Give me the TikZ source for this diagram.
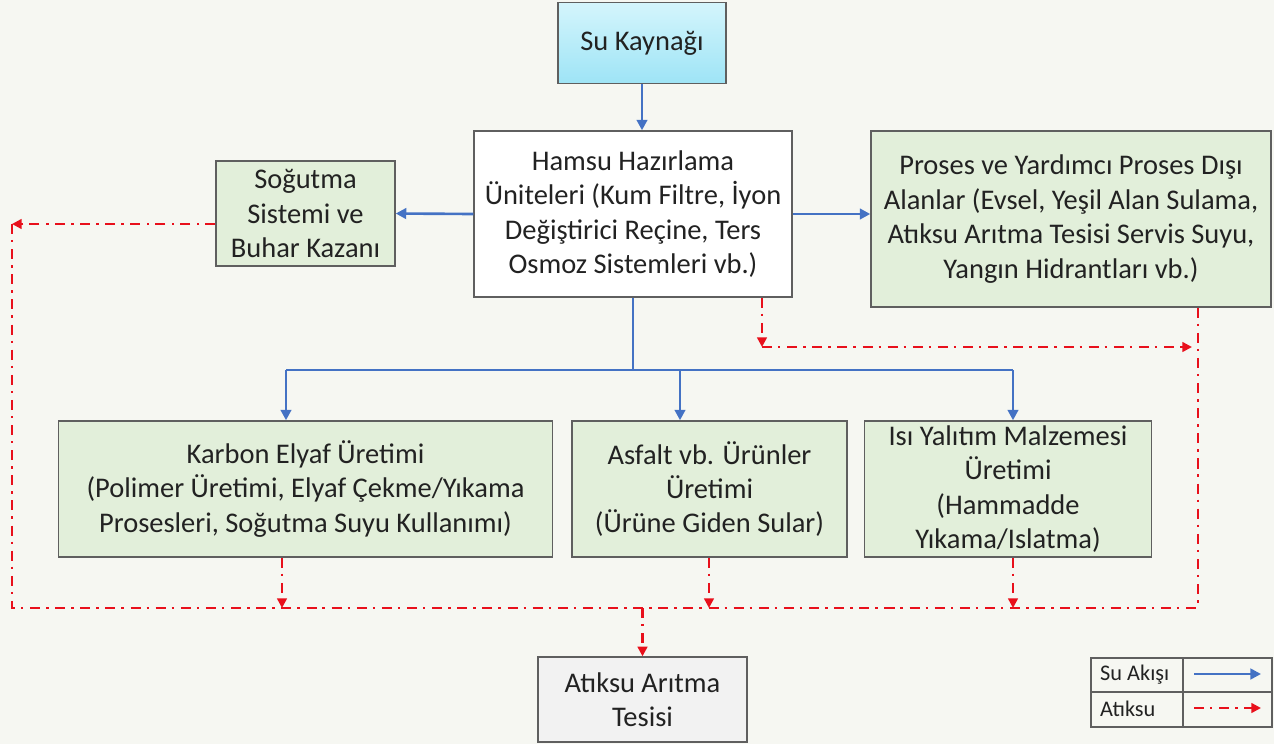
\documentclass[tikz,border=0pt]{standalone}
\usepackage{fontspec}
\setmainfont{Carlito}
\usetikzlibrary{arrows.meta}

\definecolor{bgcol}{HTML}{F6F7F2}
\definecolor{boxgreen}{HTML}{E2EFDA}
\definecolor{boxgray}{HTML}{5F5F5F}
\definecolor{srctop}{HTML}{D4F5FC}
\definecolor{srcbot}{HTML}{9EE4F6}
\definecolor{flowblue}{HTML}{4472C4}
\definecolor{wastered}{HTML}{E8101C}
\definecolor{textcol}{HTML}{222222}

\tikzset{
  box/.style={draw=boxgray, fill=boxgreen, line width=0.8pt, align=center,
    inner sep=2pt, text=textcol, font=\fontsize{16.2}{19.6}\selectfont},
  flow/.style={draw=flowblue, line width=1.5pt},
  flowarr/.style={flow, -{Triangle[length=6pt,width=6pt]}},
  waste/.style={draw=wastered, line width=1.5pt,
    dash pattern=on 5.7pt off 3.4pt on 1.4pt off 3.8pt},
  wastearr/.style={waste, -{Triangle[length=5.5pt,width=5.5pt]}},
}

\begin{document}
\begin{tikzpicture}[x=0.2mm,y=-0.2mm]
\fill[bgcol] (0,0) rectangle (1274,744);

% boxes
\node[box, top color=srctop, bottom color=srcbot, minimum width=3.36cm, minimum height=1.62cm]
  (kaynak) at (642,43) {Su Kaynağı};
\node[box, fill=white, minimum width=6.36cm, minimum height=3.32cm] (hamsu) at (633,214)
  {Hamsu Hazırlama\\Üniteleri (Kum Filtre, İyon\\Değiştirici Reçine, Ters\\Osmoz Sistemleri vb.)};
\node[box, minimum width=3.58cm, minimum height=2.1cm] (sogutma) at (305.5,213.5)
  {Soğutma\\Sistemi ve\\Buhar Kazanı};
\node[box, minimum width=8cm, minimum height=3.52cm] (proses) at (1071,219)
  {Proses ve Yardımcı Proses Dışı\\Alanlar (Evsel, Yeşil Alan Sulama,\\Atıksu Arıtma Tesisi Servis Suyu,\\Yangın Hidrantları vb.)};
\node[box, minimum width=9.88cm, minimum height=2.72cm] (karbon) at (305.5,489)
  {Karbon Elyaf Üretimi\\(Polimer Üretimi, Elyaf Çekme/Yıkama\\Prosesleri, Soğutma Suyu Kullanımı)};
\node[box, minimum width=5.5cm, minimum height=2.72cm] (asfalt) at (709.5,489)
  {Asfalt vb. Ürünler\\Üretimi\\(Ürüne Giden Sular)};
\node[box, minimum width=5.74cm, minimum height=2.72cm] (isi) at (1008,489)
  {Isı Yalıtım Malzemesi\\Üretimi\\(Hammadde\\Yıkama/Islatma)};
\node[box, fill=black!5, minimum width=4.18cm, minimum height=1.7cm] (aritma) at (642.5,699.5)
  {Atıksu Arıtma\\Tesisi};

% water flow
\coordinate (b1) at (286,370);
\coordinate (b2) at (680,370);
\coordinate (b3) at (1013,370);
\draw[flowarr] (kaynak.south) -- (kaynak.south |- hamsu.north);
\draw[flowarr] (hamsu.west) -- (sogutma.east);
\draw[flowarr] (hamsu.east) -- (hamsu.east -| proses.west);
\draw[flow] (hamsu.south) -- (hamsu.south |- b1);
\draw[flow] (b1) -- (b3);
\draw[flowarr] (b1) -- (b1 |- karbon.north);
\draw[flowarr] (b2) -- (b2 |- asfalt.north);
\draw[flowarr] (b3) -- (b3 |- isi.north);

% waste water
\coordinate (cl) at (12,224);
\coordinate (bl) at (12,608);
\coordinate (br) at (1198,608);
\coordinate (hr) at (762,347);
\coordinate (pr) at (1192,347);
\coordinate (k1) at (282,608);
\coordinate (a1) at (709,608);
\coordinate (i1) at (1013,608);
\draw[wastearr] (cl -| sogutma.west) -- (cl);
\draw[waste] (cl) -- (bl) -- (br);
\draw[wastearr] (hamsu.south -| hr) -- (hr);
\draw[wastearr] (hr) -- (pr);
\draw[waste] (proses.south -| br) -- (br);
\draw[wastearr] (karbon.south -| k1) -- (k1);
\draw[wastearr] (asfalt.south -| a1) -- (a1);
\draw[wastearr] (isi.south -| i1) -- (i1);
\draw[wastearr] (aritma.north |- br) -- (aritma.north);

% legend
\draw[boxgray, line width=0.8pt] (1091,658) rectangle (1272,727);
\draw[boxgray, line width=0.8pt] (1091,692) -- (1272,692);
\draw[boxgray, line width=0.8pt] (1183,658) -- (1183,727);
\node[anchor=west, text=textcol, font=\fontsize{12.7}{15}\selectfont] (lgflow) at (1094,675) {Su Akışı};
\node[anchor=west, text=textcol, font=\fontsize{12.7}{15}\selectfont] (lgwaste) at (1094,709) {Atıksu};
\coordinate (lf1) at (1194,674);
\coordinate (lf2) at (1261,674);
\coordinate (lw1) at (1194,708);
\coordinate (lw2) at (1261,708);
\draw[flowarr] (lf1) -- (lf2);
\draw[wastearr] (lw1) -- (lw2);
\end{tikzpicture}
\end{document}
